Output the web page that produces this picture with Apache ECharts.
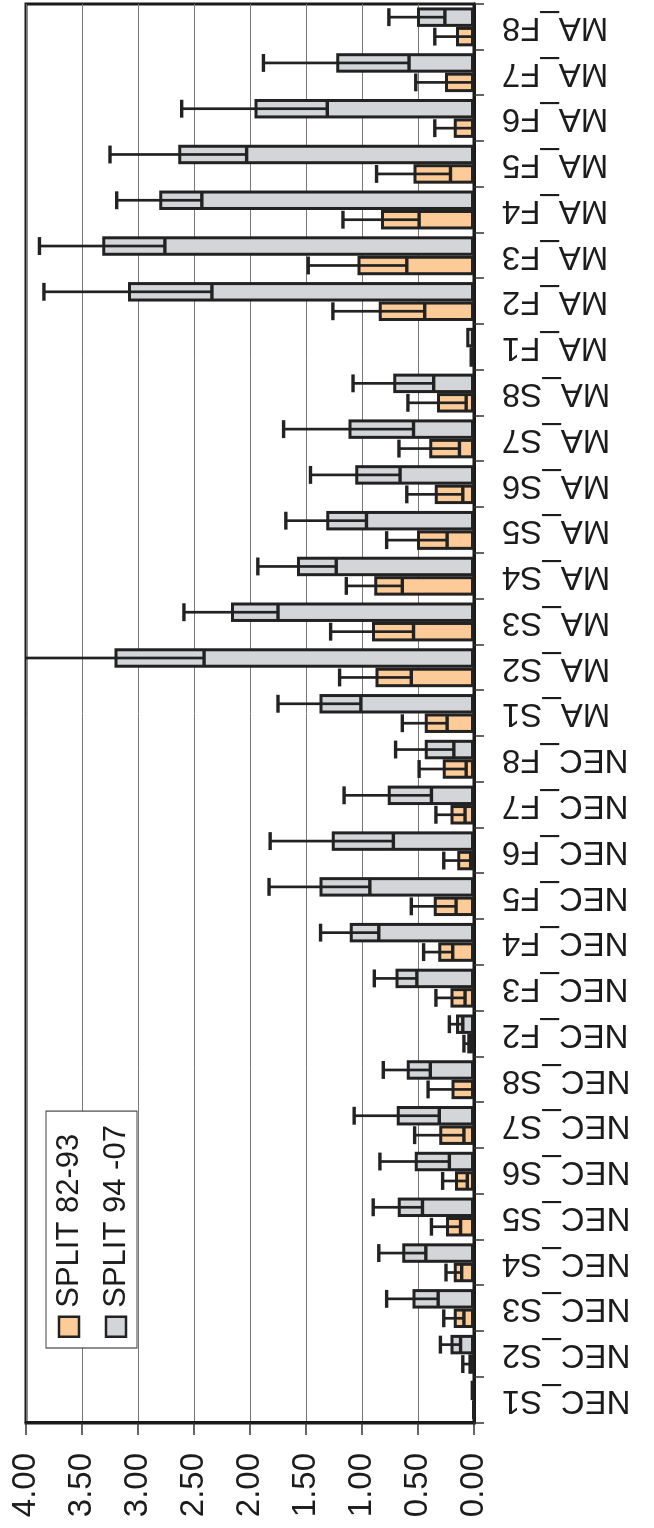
<!DOCTYPE html>
<html>
<head>
<meta charset="utf-8">
<script src="https://cdn.jsdelivr.net/npm/echarts@6/dist/echarts.min.js"></script>
<style>
  html, body { margin: 0; padding: 0; background: #fff; width: 654px; height: 1528px; overflow: hidden; }
  /* The chart is laid out landscape and turned a quarter turn counter-clockwise onto the portrait page */
  #chart {
    position: absolute; left: 0; top: 0;
    width: 1528px; height: 654px;
    transform-origin: 0 0;
    transform: translateY(1528px) rotate(-90deg);
  }
</style>
</head>
<body>
<div id="chart"></div>
<script>
// Sites, in plotting order
const categories = [
  'NEC_S1', 'NEC_S2', 'NEC_S3', 'NEC_S4', 'NEC_S5', 'NEC_S6', 'NEC_S7', 'NEC_S8',
  'NEC_F2', 'NEC_F3', 'NEC_F4', 'NEC_F5', 'NEC_F6', 'NEC_F7', 'NEC_F8',
  'MA_S1', 'MA_S2', 'MA_S3', 'MA_S4', 'MA_S5', 'MA_S6', 'MA_S7', 'MA_S8',
  'MA_F1', 'MA_F2', 'MA_F3', 'MA_F4', 'MA_F5', 'MA_F6', 'MA_F7', 'MA_F8'
];

// SPLIT 82-93: mean and error
const split8293 = [
  0.01, 0.05, 0.18, 0.18, 0.25, 0.17, 0.31, 0.20,
  0.06, 0.21, 0.32, 0.36, 0.15, 0.21, 0.28,
  0.44, 0.88, 0.91, 0.89, 0.51, 0.35, 0.40, 0.33,
  0.04, 0.85, 1.04, 0.83, 0.54, 0.18, 0.26, 0.16
];
const split8293Err = [
  0.00, 0.05, 0.09, 0.07, 0.13, 0.11, 0.22, 0.21,
  0.03, 0.13, 0.13, 0.20, 0.12, 0.13, 0.21,
  0.20, 0.32, 0.37, 0.25, 0.27, 0.25, 0.27, 0.26,
  0.00, 0.41, 0.44, 0.34, 0.33, 0.17, 0.26, 0.19
];

// SPLIT 94 -07: mean and error
const split9407 = [
  0.03, 0.21, 0.55, 0.64, 0.68, 0.53, 0.69, 0.60,
  0.16, 0.70, 1.11, 1.38, 1.27, 0.77, 0.44,
  1.38, 3.21, 2.17, 1.58, 1.32, 1.06, 1.12, 0.72,
  0.07, 3.09, 3.32, 2.81, 2.64, 1.96, 1.23, 0.51
];
const split9407Err = [
  0.00, 0.09, 0.23, 0.21, 0.22, 0.31, 0.38, 0.21,
  0.06, 0.19, 0.26, 0.45, 0.55, 0.39, 0.26,
  0.37, 0.80, 0.42, 0.35, 0.36, 0.40, 0.58, 0.36,
  0.00, 0.75, 0.56, 0.38, 0.61, 0.65, 0.65, 0.25
];

const seriesNames = ['SPLIT 82-93', 'SPLIT 94 -07'];
const valueMin = 0, valueMax = 4, valueStep = 0.5;

const FONT = '"Liberation Sans", Arial, sans-serif';
const INK = '#1c1c1c';
const EDGE = '#222222';
const CATEGORY_GAP = 0.15;   // share of each band left empty

// Error whiskers drawn over the bars, one custom series per bar series
function errorBars(values, errs, side) {
  return {
    type: 'custom',
    z: 10,
    silent: true,
    renderItem(params, api) {
      const i = api.value(0), v = api.value(1), e = api.value(2);
      if (!e) return null;
      const band = api.size([1, 0])[0];
      const barW = band * (1 - CATEGORY_GAP) / 2;
      const off = side * barW / 2;
      const lo = Math.max(v - e, valueMin);
      const hi = Math.min(v + e, valueMax);
      const pLo = api.coord([i, lo]);
      const pHi = api.coord([i, hi]);
      const x = pLo[0] + off;
      const half = barW * 0.46;
      const style = { stroke: EDGE, lineWidth: 2.7 };
      const kids = [{ type: 'line', shape: { x1: x, y1: pLo[1], x2: x, y2: pHi[1] }, style }];
      const capStyle = { stroke: EDGE, lineWidth: 3.4 };
      if (v - e > valueMin) kids.push({ type: 'line', shape: { x1: x - half, y1: pLo[1], x2: x + half, y2: pLo[1] }, style: capStyle });
      if (v + e < valueMax) kids.push({ type: 'line', shape: { x1: x - half, y1: pHi[1], x2: x + half, y2: pHi[1] }, style: capStyle });
      return { type: 'group', children: kids };
    },
    encode: { x: 0, y: 1 },
    data: values.map((v, i) => [i, v, errs[i]])
  };
}

const chart = echarts.init(document.getElementById('chart'), null, { renderer: 'canvas' });

chart.setOption({
  backgroundColor: '#ffffff',
  animation: false,
  textStyle: { fontFamily: FONT, color: INK },
  grid: {
    left: 105, right: 4, top: 26, bottom: 180,
    show: true, borderColor: '#1a1a1a', borderWidth: 3, backgroundColor: 'transparent'
  },
  legend: {
    data: seriesNames,
    orient: 'vertical',
    left: 180, top: 46,
    padding: [5, 14, 3, 10],
    itemGap: 11,
    itemWidth: 20, itemHeight: 20,
    icon: 'rect',
    backgroundColor: '#ffffff',
    borderColor: '#444444', borderWidth: 1.2, borderRadius: 0,
    selectedMode: false,
    itemStyle: { borderColor: EDGE, borderWidth: 2.5 },
    textStyle: { fontFamily: FONT, fontSize: 31, color: INK, lineHeight: 36, padding: [0, 0, 0, 4] }
  },
  xAxis: {
    type: 'category',
    data: categories,
    boundaryGap: true,
    axisLine: { show: true, lineStyle: { color: '#1a1a1a', width: 3 } },
    axisTick: { show: true, length: 10, lineStyle: { color: '#333', width: 1.5 } },
    axisLabel: {
      interval: 0, rotate: 90, margin: 28,
      fontFamily: FONT, fontSize: 33, color: INK
    },
    splitLine: { show: false }
  },
  yAxis: {
    type: 'value',
    min: valueMin, max: valueMax, interval: valueStep,
    axisLine: { show: true, lineStyle: { color: '#1a1a1a', width: 3 } },
    axisTick: { show: true, length: 12, lineStyle: { color: '#333', width: 1.5 } },
    axisLabel: {
      margin: 30, fontFamily: FONT, fontSize: 33, color: INK,
      formatter: v => v.toFixed(2)
    },
    splitLine: { show: true, lineStyle: { color: '#777777', width: 1 } }
  },
  series: [
    {
      name: seriesNames[0], type: 'bar',
      data: split8293,
      barGap: '0%', barCategoryGap: (CATEGORY_GAP * 100) + '%',
      itemStyle: { color: '#fccb97', borderColor: EDGE, borderWidth: 3 }
    },
    {
      name: seriesNames[1], type: 'bar',
      data: split9407,
      barGap: '0%', barCategoryGap: (CATEGORY_GAP * 100) + '%',
      itemStyle: { color: '#d3d5d9', borderColor: EDGE, borderWidth: 3 }
    },
    errorBars(split8293, split8293Err, -1),
    errorBars(split9407, split9407Err, 1)
  ]
});
</script>
</body>
</html>
